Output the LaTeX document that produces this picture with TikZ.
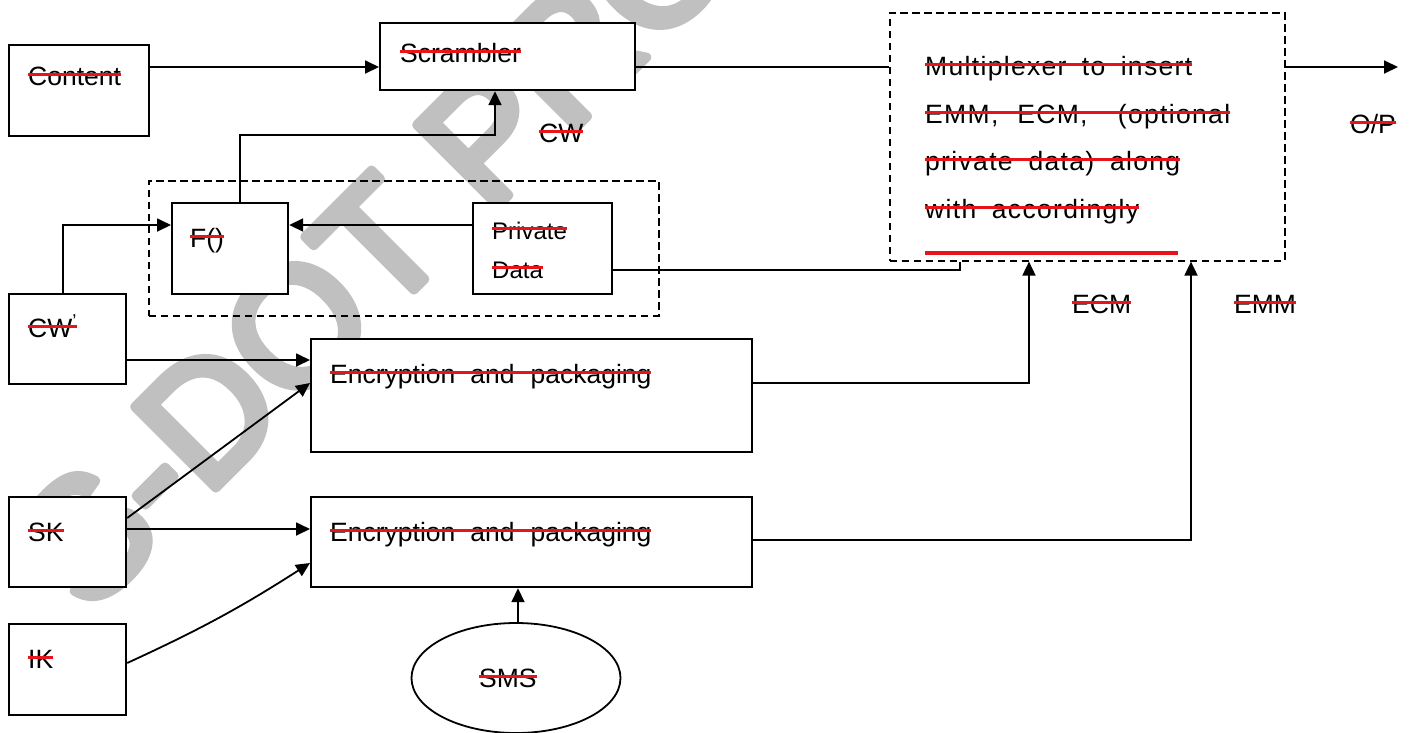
\documentclass[tikz,border=0pt]{standalone}
\usepackage{fontspec}
\setmainfont{Liberation Sans}
\newfontfamily\muxfont[LetterSpace=5]{Liberation Sans}
\newfontfamily\wmfont{Liberation Sans}
\usetikzlibrary{arrows.meta,shapes.geometric}
\definecolor{strk}{RGB}{232,20,28}
\definecolor{wmgray}{RGB}{192,192,192}
% struck-through text: red bar across the x-height
\newsavebox\stkbox
\newcommand\stk[1]{\sbox\stkbox{#1}\usebox\stkbox\hspace*{-\wd\stkbox}{\color{strk}\rule[8.9pt]{\wd\stkbox}{3.2pt}}}
% glyphs filled and stroked with round joins, for the soft watermark letters
\newcommand\roundglyphs[1]{\special{pdf:literal direct 2 Tr 9 w 1 j 1 J}#1\special{pdf:literal direct 0 Tr}}
\tikzset{
  box/.style={draw, line width=2.2pt, fill=white, rectangle, inner sep=0pt, anchor=north west},
  grp/.style={draw, line width=1.6pt, dash pattern=on 7.5pt off 4.5pt, rectangle, inner sep=0pt, anchor=north west},
  txt/.style={inner sep=0pt, anchor=base west, font=\fontsize{26.5pt}{30pt}\selectfont},
  smalltxt/.style={txt, font=\fontsize{24pt}{28pt}\selectfont},
  ln/.style={line width=1.8pt},
  arr/.style={ln, -{Triangle[length=14pt,width=13pt]}},
}
\begin{document}
\begin{tikzpicture}[x=1pt,y=-1pt]
\useasboundingbox (0,0) rectangle (1409,732);
\fill[white] (0,0) rectangle (1409,732);

% watermark
\node[inner sep=0pt, anchor=base west, rotate=45, text=wmgray,
      font=\wmfont\fontsize{167pt}{167pt}\selectfont] (wm) at (88,616) {\roundglyphs{S-DOT PRO}};

% dashed groups
\node[grp, minimum width=510pt, minimum height=135pt] (fgroup) at (148,180) {};
\node[grp, minimum width=395pt, minimum height=248pt] (mux) at (889,12) {};

% boxes
\node[box, minimum width=140pt, minimum height=91pt] (content) at (8,44) {};
\node[box, minimum width=255pt, minimum height=67pt] (scrambler) at (379,22) {};
\node[box, minimum width=116pt, minimum height=91pt] (fbox) at (171,202) {};
\node[box, minimum width=139pt, minimum height=91pt] (priv) at (472,202) {};
\node[box, minimum width=117pt, minimum height=90pt] (cw2) at (8,293) {};
\node[box, minimum width=441pt, minimum height=113pt] (enc1) at (310,338) {};
\node[box, minimum width=117pt, minimum height=90pt] (sk) at (8,496) {};
\node[box, minimum width=441pt, minimum height=90pt] (enc2) at (310,496) {};
\node[box, minimum width=117pt, minimum height=91pt] (ik) at (8,623) {};
\node[draw, ellipse, line width=1.8pt, fill=white, inner sep=0pt,
      minimum width=209pt, minimum height=110pt] (sms) at (516,678) {};

% texts
\node[txt] (tcontent) at (28,85) {\stk{Content}};
\node[txt] (tscr) at (400,62) {\stk{Scrambler}};
\node[txt] (tcw) at (539,142) {\stk{CW}};
\node[txt] (tf) at (190,247) {\stk{F()}};
\node[smalltxt] (tpriv1) at (492,239) {\stk{Private}};
\node[smalltxt] (tpriv2) at (492,278) {\stk{Data}};
\node[txt] (tcw2) at (28,337) {\stk{CW\textsuperscript{’}}};
\node[txt] (tenc1) at (330,383) {\stk{Encryption\hspace{15pt}and\hspace{16pt}packaging}};
\node[txt] (tsk) at (28,541) {\stk{SK}};
\node[txt] (tenc2) at (330,541) {\stk{Encryption\hspace{15pt}and\hspace{16pt}packaging}};
\node[txt] (tik) at (28,668) {\stk{IK}};
\node[txt] (tsms) at (479,687) {\stk{SMS}};
\node[txt] (tecm) at (1072,313) {\stk{ECM}};
\node[txt] (temm) at (1234,313) {\stk{EMM}};
\node[txt] (top) at (1350,133) {\stk{O/P}};

\node[txt] (mux1) at (925,75) {\stk{\muxfont\makebox[267pt][s]{Multiplexer\hfill to\hfill insert}}};
\node[txt] (mux2) at (925,123) {\stk{\muxfont\makebox[305pt][s]{EMM,\hspace{0pt plus 1fil}ECM,\hspace{0pt plus 1.6fil}(optional}}};
\node[txt] (mux3) at (925,170) {\stk{\muxfont\makebox[255pt][s]{private\hfill data)\hfill along}}};
\node[txt] (mux4) at (925,218) {\stk{\muxfont\makebox[214pt][s]{with\hfill accordingly}}};
\node[txt] (mux5) at (925,263.5) {\stk{\hspace*{253pt}}};

% connectors
\coordinate (out) at (1398,67);
\draw[arr] (content.east |- 0,67) -- (scrambler.west |- 0,67);
\draw[ln] (scrambler.east |- 0,67) -- (mux.west |- 0,67);
\draw[arr] (mux.east |- 0,67) -- (out);
\draw[arr] (240,0 |- fbox.north) |- (495,135) -- (495,0 |- scrambler.south);
\draw[arr] (priv.west |- 0,225) -- (fbox.east |- 0,225);
\draw[arr] (63,0 |- cw2.north) |- (fbox.west |- 0,225);
\draw[ln] (priv.east |- 0,270) -| (960,0 |- mux.south);
\draw[arr] (cw2.east |- 0,360) -- (enc1.west |- 0,360);
\draw[arr] (sk.east |- 0,518) -- (enc1.west |- 0,383);
\draw[arr] (sk.east |- 0,529) -- (enc2.west |- 0,529);
\draw[arr] (ik.east |- 0,663) to[bend right=4] (enc2.west |- 0,563);
\draw[arr] (enc1.east |- 0,383) -| (1029,0 |- mux.south);
\draw[arr] (enc2.east |- 0,540) -| (1191,0 |- mux.south);
\draw[arr] (518,0 |- sms.north) -- (518,0 |- enc2.south);
\end{tikzpicture}
\end{document}
